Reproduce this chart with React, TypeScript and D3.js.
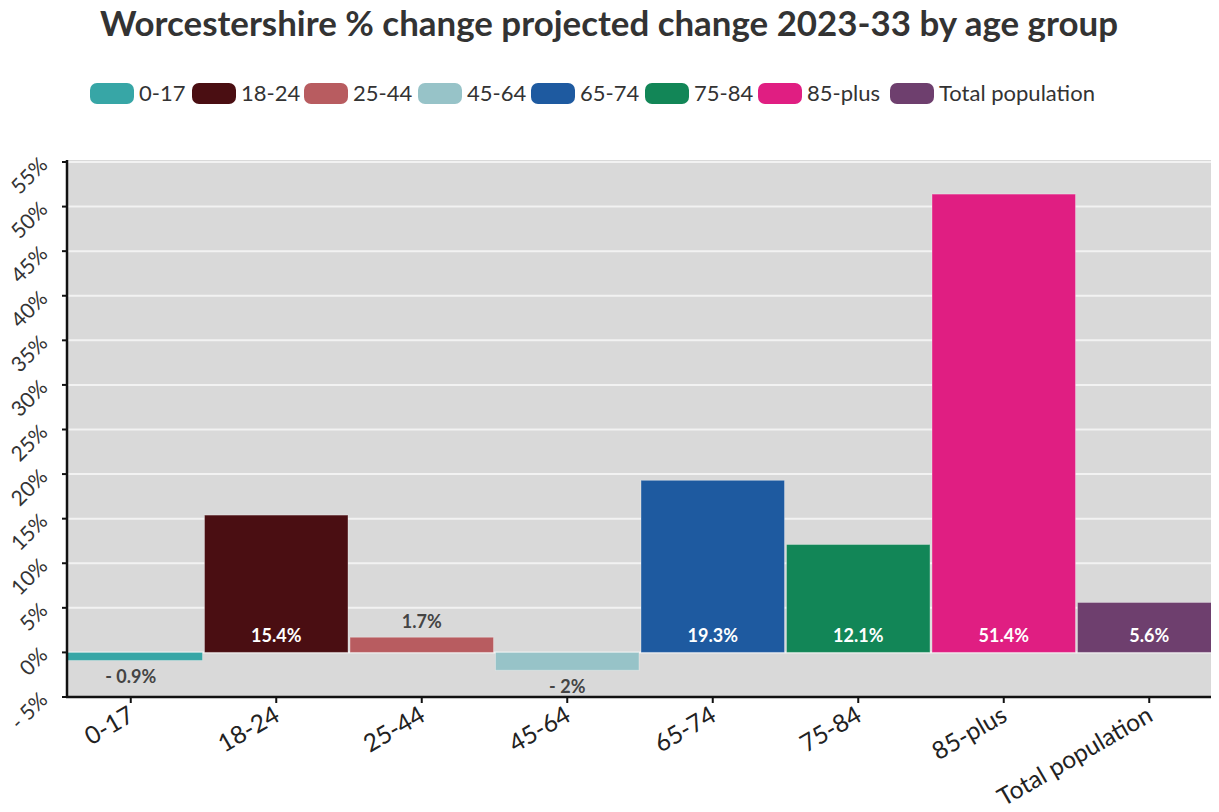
import React from "react";
import * as d3 from "d3";

const categories = ["0-17", "18-24", "25-44", "45-64", "65-74", "75-84", "85-plus", "Total population"];
const values = [-0.9, 15.4, 1.7, -2, 19.3, 12.1, 51.4, 5.6];
const colors = ["#37a6a6", "#4a0e12", "#b85c60", "#97c3c8", "#1e5aa0", "#128657", "#e01e82", "#6e3f6e"];
const yTicks = [-5, 0, 5, 10, 15, 20, 25, 30, 35, 40, 45, 50, 55];
const title = "Worcestershire % change projected change 2023-33 by age group";

const W = 1219, H = 812;
const left = 67, right = 1211, top = 162, bottom = 697;
const FONT = "Lato, 'Open Sans', sans-serif";

const fmt = (v: number) => (v < 0 ? `- ${Math.abs(v)}%` : `${v}%`);

export default function App() {
  const x = d3.scaleBand<string>().domain(categories).range([58, 1222]).paddingInner(0.014).paddingOuter(0.007);
  const y = d3.scaleLinear().domain([-5, 55]).range([bottom, top]);
  const legendX = [90, 192, 304, 418, 531, 645, 758, 890];

  return (
    <svg width={W} height={H} style={{ position: "absolute", left: 0, top: 0, background: "#fff" }} fontFamily={FONT}>
      <defs>
        <clipPath id="plotClip">
          <rect x={left} y={0} width={right - left} height={H} />
        </clipPath>
      </defs>
      <text x={609} y={36} textAnchor="middle" fontSize={34} fontWeight={700} fill="#333" textLength={1018} lengthAdjust="spacingAndGlyphs">{title}</text>
      {categories.map((c, i) => (
        <g key={c} transform={`translate(${legendX[i]},83)`}>
          <rect width={44} height={21} rx={7} fill={colors[i]} />
          <text x={49} y={10.5} dy="0.36em" fontSize={22} fill="#333">{c}</text>
        </g>
      ))}
      <rect x={left} y={y(55) - 2} width={right - left} height={bottom - y(55) + 2} fill="#d9d9d9" />
      {yTicks.filter(t => t > -5).map(t => (
        <line key={t} x1={left} x2={right} y1={y(t)} y2={y(t)} stroke="#f2f2f2" strokeWidth={2} />
      ))}
      <g clipPath="url(#plotClip)">
        {categories.map((c, i) => {
          const v = values[i];
          const x0 = x(c)!;
          const y0 = y(Math.max(0, v));
          const h = Math.abs(y(v) - y(0));
          return (
            <rect key={c} x={x0} y={y0} width={x.bandwidth()} height={h} fill={colors[i]} stroke="rgba(255,255,255,0.3)" strokeWidth={1} />
          );
        })}
      </g>
      {categories.map((c, i) => {
        const v = values[i];
        const cx = x(c)! + x.bandwidth() / 2;
        let ly: number, fill: string;
        if (v < 0) { ly = y(v) + 16; fill = "#444"; }
        else if (v < 4) { ly = y(v) - 16; fill = "#444"; }
        else { ly = y(0) - 17; fill = "#fff"; }
        return (
          <text key={c} x={cx} y={ly} dy="0.35em" textAnchor="middle" fontSize={18} fontWeight={700} fill={fill}>{fmt(v)}</text>
        );
      })}
      <line x1={left} x2={left} y1={y(55) - 2} y2={bottom + 1} stroke="#111" strokeWidth={2.5} />
      <line x1={left - 1} x2={right} y1={bottom} y2={bottom} stroke="#111" strokeWidth={2.5} />
      {yTicks.map(t => (
        <g key={t}>
          <line x1={left - 5} x2={left} y1={y(t)} y2={y(t)} stroke="#111" strokeWidth={2} />
          <text transform={`translate(${left - 18},${y(t) + 4}) rotate(-45)`} textAnchor="end" fontSize={21} fill="#333">{fmt(t)}</text>
        </g>
      ))}
      {categories.map(c => {
        const cx = x(c)! + x.bandwidth() / 2;
        return (
          <g key={c}>
            <line x1={cx} x2={cx} y1={bottom} y2={bottom + 6} stroke="#111" strokeWidth={2} />
            <text transform={`translate(${cx + 5},${bottom + 23}) rotate(-30)`} textAnchor="end" fontSize={24.5} fill="#222">{c}</text>
          </g>
        );
      })}
    </svg>
  );
}
